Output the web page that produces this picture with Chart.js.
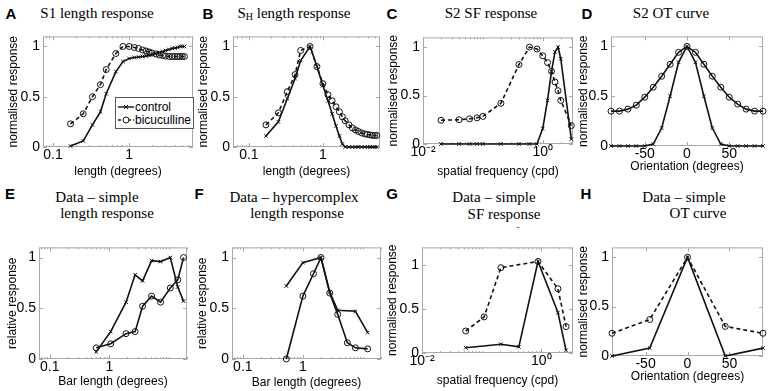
<!DOCTYPE html>
<html>
<head>
<meta charset="utf-8">
<script src="https://cdn.jsdelivr.net/npm/chart.js@4.4.1/dist/chart.umd.min.js"></script>
<style>
  html, body { margin: 0; padding: 0; background: #fff; }
  #fig { position: relative; width: 768px; height: 391px; overflow: hidden; }
  .panel { position: absolute; }
  .lbl { position: absolute; transform: translate(-50%, -50%); white-space: nowrap; color: #000; }
  .letter { font: bold 15px 'Liberation Sans', Arial, sans-serif; }
  .ttl { font: 15px 'Liberation Serif', 'Times New Roman', serif; }
  .ttl sub { font-size: 10px; vertical-align: -2px; }
  #legA { position: absolute; left: 115px; top: 97px; width: 77px; height: 30px;
          border: 1px solid #555; background: #fff; font: 12px 'Liberation Sans', Arial, sans-serif; }
  #legA .row { position: absolute; left: 2px; height: 14px; display: flex; align-items: center; }
  #legA svg { margin-right: 1px; }
</style>
</head>
<body>
<div id="fig">
  <div class="lbl letter" style="left:11px;top:13px">A</div>
  <div class="lbl letter" style="left:208px;top:13px">B</div>
  <div class="lbl letter" style="left:392px;top:13px">C</div>
  <div class="lbl letter" style="left:587px;top:13px">D</div>
  <div class="lbl letter" style="left:10px;top:193px">E</div>
  <div class="lbl letter" style="left:199px;top:193px">F</div>
  <div class="lbl letter" style="left:392px;top:193px">G</div>
  <div class="lbl letter" style="left:586px;top:193px">H</div>

  <div class="lbl ttl" style="left:97px;top:13px">S1 length response</div>
  <div class="lbl ttl" style="left:294px;top:13px">S<sub>H</sub> length response</div>
  <div class="lbl ttl" style="left:491px;top:13px">S2 SF response</div>
  <div class="lbl ttl" style="left:671px;top:13px">S2 OT curve</div>
  <div class="lbl ttl" style="left:97px;top:197px">Data – simple</div>
  <div class="lbl ttl" style="left:107px;top:213px">length response</div>
  <div class="lbl ttl" style="left:294px;top:197px">Data – hypercomplex</div>
  <div class="lbl ttl" style="left:297px;top:213px">length response</div>
  <div class="lbl ttl" style="left:494px;top:197px">Data – simple</div>
  <div class="lbl ttl" style="left:504px;top:214px">SF response</div>
  <div class="lbl ttl" style="left:518px;top:227px;font-size:9px">-</div>
  <div class="lbl ttl" style="left:684px;top:197px">Data – simple</div>
  <div class="lbl ttl" style="left:698px;top:213px">OT curve</div>
</div>
<script>
// model: S1 / SH length tuning (control vs bicuculline)
const lenModel = [0.17, 0.25, 0.33, 0.42, 0.5, 0.67, 0.83, 1.0, 1.17, 1.33, 1.5, 1.67, 1.83,
  2.0, 2.25, 2.5, 2.75, 3.0, 3.33, 3.67, 4.0, 4.33, 4.67, 5.0, 5.33]
const s1Control = [0.01, 0.06, 0.22, 0.35, 0.53, 0.75, 0.85, 0.88, 0.89, 0.895, 0.9, 0.905, 0.91,
  0.92, 0.93, 0.94, 0.95, 0.96, 0.97, 0.98, 0.985, 0.99, 1.0, 1.0, 1.0]
const s1Bicuc = [0.23, 0.33, 0.5, 0.62, 0.77, 0.93, 1.0, 1.0, 0.99, 0.98, 0.965, 0.955, 0.945,
  0.935, 0.925, 0.915, 0.91, 0.905, 0.9, 0.9, 0.9, 0.9, 0.9, 0.9, 0.9]
const shControl = [0.11, 0.25, 0.48, 0.68, 0.86, 1.0, 0.8, 0.61, 0.46, 0.33, 0.21, 0.11, 0.03,
  0, 0, 0, 0, 0, 0, 0, 0, 0, 0, 0, 0]
const shBicuc = [0.22, 0.34, 0.55, 0.72, 0.96, 1.0, 0.8, 0.63, 0.52, 0.46, 0.4, 0.35, 0.3,
  0.26, 0.22, 0.19, 0.17, 0.155, 0.14, 0.13, 0.125, 0.12, 0.115, 0.115, 0.115]

// model: S2 spatial frequency and orientation
const sfModel = [0.02, 0.04, 0.06, 0.08, 0.1, 0.2, 0.4, 0.6, 0.8, 1.0, 1.2, 1.4, 1.6, 1.8, 2.0, 3.0]
const s2SfBroad = [0.245, 0.25, 0.26, 0.27, 0.285, 0.42, 0.82, 1.0, 0.98, 0.91, 0.84, 0.75, 0.64, 0.55, 0.45, 0.19]
const s2SfNarrow = [0, 0, 0, 0, 0, 0, 0, 0, 0, 0.16, 0.45, 0.75, 0.95, 1.0, 0.88, 0.05]
const oriModel = [-90, -80, -70, -60, -50, -40, -30, -20, -10, 0, 10, 20, 30, 40, 50, 60, 70, 80, 90]
const s2OtBroad = [0.35, 0.35, 0.37, 0.41, 0.49, 0.59, 0.7, 0.82, 0.94, 1.0, 0.94, 0.82, 0.7, 0.59, 0.49, 0.42, 0.37, 0.35, 0.35]
const s2OtNarrow = [0, 0, 0, 0, 0, 0.02, 0.18, 0.5, 0.84, 1.0, 0.84, 0.5, 0.18, 0.02, 0, 0, 0, 0, 0]

// physiology data
const lenSimple = [0.6, 1.05, 1.9, 2.7, 3.6, 5.1, 7.2, 10.5, 14, 17.5]
const simpleLenCross = [0.07, 0.27, 0.56, 0.83, 0.77, 0.97, 0.96, 1.0, 0.71, 0.57]
const simpleLenCircle = [0.11, 0.15, 0.25, 0.27, 0.52, 0.62, 0.56, 0.7, 0.78, 1.0]
const lenHyperCrossX = [0.53, 1.0, 2.0, 2.8, 3.8, 7.5, 12]
const hyperLenCross = [0.72, 0.95, 1.0, 0.66, 0.48, 0.47, 0.26]
const lenHyperCircleX = [0.53, 1.0, 1.5, 2.0, 2.8, 3.8, 5.5, 7.5, 12]
const hyperLenCircle = [0, 0.62, 0.84, 1.0, 0.65, 0.44, 0.16, 0.11, 0.1]
const sfSimpleCircleX = [0.054, 0.11, 0.21, 0.88, 1.9, 2.6]
const simpleSfCircle = [0.25, 0.41, 0.97, 1.04, 0.73, 0.3]
const sfSimpleCrossX = [0.054, 0.21, 0.42, 0.88, 1.9, 2.6]
const simpleSfCross = [0.06, 0.1, 0.07, 1.04, 0.46, 0.03]
const oriData = [-90, -45, 0, 45, 90]
const simpleOtCircle = [0.23, 0.37, 1.0, 0.3, 0.23]
const simpleOtCross = [0, 0.08, 1.0, 0, 0.08]

// tick labels
const lenTicks = [0.1, 1]
const lenTickLabels = ['0.1', '1']
const sfTicks = [0.01, 1]
const sfTickLabels = ['10⁻²', '10⁰']
const oriTicks = [-50, 0, 50]
const oriTickLabels = ['-50', '0', '50']
const respTicks = [0, 0.5, 1]
const respTickLabels = ['0', '0.5', '1']

Chart.defaults.font.family = "'Liberation Sans', Arial, sans-serif"
Chart.defaults.color = '#000'

const charts = {}
const INK = '#111'
const solidCross = { dash: false, marker: 'crossRot' }
const solidCircle = { dash: false, marker: 'circle' }
const dashCircle = { dash: true, marker: 'circle' }

function line (xs, ys, st) {
  return {
    data: xs.map((x, i) => ({ x, y: ys[i] })),
    borderColor: INK,
    borderWidth: 1.6,
    borderDash: st.dash ? [4, 3] : [],
    pointStyle: st.marker,
    pointRadius: st.marker === 'circle' ? 3 : 2.5,
    pointBorderColor: INK,
    pointBackgroundColor: 'rgba(0,0,0,0)',
    pointBorderWidth: 1,
    tension: 0,
    fill: false,
    clip: false
  }
}

function logTicks (min, max) {
  const out = []
  for (let e = Math.floor(Math.log10(min)); e <= Math.ceil(Math.log10(max)); e++) {
    for (let k = 1; k < 10; k++) {
      const v = k * Math.pow(10, e)
      if (v >= min && v <= max) out.push(v)
    }
  }
  return out
}

function labelFor (v, vals, labels) {
  const i = vals.findIndex(m => Math.abs(m - v) < 1e-9 * Math.max(1, Math.abs(m)))
  return i < 0 ? '' : labels[i]
}

// grey box with small inward ticks, as matlab draws it
const frame = {
  id: 'frame',
  beforeDatasetsDraw (chart) {
    const { ctx, chartArea: a, scales: { x, y } } = chart
    ctx.save()
    ctx.strokeStyle = '#a8a8a8'
    ctx.lineWidth = 1
    ctx.strokeRect(a.left + 0.5, a.top + 0.5, a.width - 1, a.height - 1)
    ctx.beginPath()
    x.ticks.forEach(t => {
      const px = Math.round(x.getPixelForValue(t.value)) + 0.5
      const n = t.big ? 4 : 2
      ctx.moveTo(px, a.bottom); ctx.lineTo(px, a.bottom - n)
      ctx.moveTo(px, a.top); ctx.lineTo(px, a.top + n)
    })
    y.ticks.forEach(t => {
      const py = Math.round(y.getPixelForValue(t.value)) + 0.5
      ctx.moveTo(a.left, py); ctx.lineTo(a.left + 4, py)
      ctx.moveTo(a.right, py); ctx.lineTo(a.right - 4, py)
    })
    ctx.stroke()
    ctx.restore()
  }
}

function build (id, spec) {
  const [l, t, r, b, yTitleX, xTitleY] = spec.box
  const left = yTitleX - 10
  const top = t - 6
  const width = r + 5 - left
  const height = xTitleY + 9 - top
  const div = document.createElement('div')
  div.className = 'panel'
  div.style.cssText = `left:${left}px;top:${top}px;width:${width}px;height:${height}px`
  const canvas = document.createElement('canvas')
  div.appendChild(canvas)
  document.getElementById('fig').appendChild(div)

  const xVals = spec.xType === 'logarithmic' ? logTicks(spec.xMin, spec.xMax) : spec.xMajor
  const titleFont = { size: 12 }

  charts[id] = new Chart(canvas.getContext('2d'), {
    type: 'line',
    data: { datasets: spec.series },
    plugins: [frame],
    options: {
      responsive: true,
      maintainAspectRatio: false,
      animation: false,
      events: [],
      layout: { padding: { top: 6, right: 5, left: 0, bottom: 0 } },
      plugins: { legend: { display: false }, tooltip: { enabled: false } },
      scales: {
        x: {
          type: spec.xType,
          min: spec.xMin,
          max: spec.xMax,
          grid: { display: false, drawTicks: false },
          border: { display: false },
          afterBuildTicks: s => {
            s.ticks = xVals.map(v => ({ value: v, big: labelFor(v, spec.xMajor, spec.xLabels) !== '' }))
          },
          afterFit: s => { s.height = xTitleY + 9 - b },
          ticks: {
            autoSkip: false,
            maxRotation: 0,
            padding: 0,
            font: { size: 14 },
            callback: v => labelFor(v, spec.xMajor, spec.xLabels)
          },
          title: { display: true, text: spec.xTitle, font: titleFont, padding: { top: 0, bottom: 2 } }
        },
        y: {
          type: 'linear',
          min: 0,
          max: spec.yMax,
          grid: { display: false, drawTicks: false },
          border: { display: false },
          afterBuildTicks: s => { s.ticks = respTicks.map(v => ({ value: v, big: true })) },
          afterFit: s => { s.width = l - left },
          ticks: {
            padding: 3,
            font: { size: 14 },
            callback: v => labelFor(v, respTicks, respTickLabels)
          },
          title: { display: true, text: spec.yTitle, font: titleFont, padding: { top: 3, bottom: 0 } }
        }
      }
    }
  })
  return charts[id]
}

build('A', {
  box: [43, 31, 193, 147, 13, 172],
  xType: 'logarithmic', xMin: 0.074, xMax: 6.9, xMajor: lenTicks, xLabels: lenTickLabels,
  yMax: 1.1, xTitle: 'length (degrees)', yTitle: 'normalised response',
  series: [line(lenModel, s1Control, solidCross), line(lenModel, s1Bicuc, dashCircle)]
})
build('B', {
  box: [233, 31, 380, 147, 203, 172],
  xType: 'logarithmic', xMin: 0.061, xMax: 5.9, xMajor: lenTicks, xLabels: lenTickLabels,
  yMax: 1.1, xTitle: 'length (degrees)', yTitle: 'normalised response',
  series: [line(lenModel, shControl, solidCross), line(lenModel, shBicuc, dashCircle)]
})
build('C', {
  box: [423, 32, 573, 144, 393, 172],
  xType: 'logarithmic', xMin: 0.01, xMax: 3.2, xMajor: sfTicks, xLabels: sfTickLabels,
  yMax: 1.1, xTitle: 'spatial frequency (cpd)', yTitle: 'normalised response',
  series: [line(sfModel, s2SfNarrow, solidCross), line(sfModel, s2SfBroad, dashCircle)]
})
build('D', {
  box: [611, 31, 763, 146, 583, 167],
  xType: 'linear', xMin: -90, xMax: 90, xMajor: oriTicks, xLabels: oriTickLabels,
  yMax: 1.1, xTitle: 'Orientation (degrees)', yTitle: 'normalised response',
  series: [line(oriModel, s2OtNarrow, solidCross), line(oriModel, s2OtBroad, solidCircle)]
})
build('E', {
  box: [39, 242, 187, 359, 12, 382],
  xType: 'logarithmic', xMin: 0.066, xMax: 20, xMajor: lenTicks, xLabels: lenTickLabels,
  yMax: 1.1, xTitle: 'Bar length (degrees)', yTitle: 'relative response',
  series: [line(lenSimple, simpleLenCross, solidCross), line(lenSimple, simpleLenCircle, solidCircle)]
})
build('F', {
  box: [232, 242, 381, 359, 202, 383],
  xType: 'logarithmic', xMin: 0.066, xMax: 20, xMajor: lenTicks, xLabels: lenTickLabels,
  yMax: 1.1, xTitle: 'Bar length (degrees)', yTitle: 'relative response',
  series: [line(lenHyperCrossX, hyperLenCross, solidCross), line(lenHyperCircleX, hyperLenCircle, solidCircle)]
})
build('G', {
  box: [422, 242, 573, 353, 392, 381],
  xType: 'logarithmic', xMin: 0.01, xMax: 3.4, xMajor: sfTicks, xLabels: sfTickLabels,
  yMax: 1.2, xTitle: 'spatial frequency (cpd)', yTitle: 'normalised response',
  series: [line(sfSimpleCrossX, simpleSfCross, solidCross), line(sfSimpleCircleX, simpleSfCircle, dashCircle)]
})
build('H', {
  box: [612, 242, 763, 356, 583, 377],
  xType: 'linear', xMin: -90, xMax: 90, xMajor: oriTicks, xLabels: oriTickLabels,
  yMax: 1.1, xTitle: 'Orientation (degrees)', yTitle: 'normalised response',
  series: [line(oriData, simpleOtCross, solidCross), line(oriData, simpleOtCircle, dashCircle)]
})
</script>
<div id="legA" style="position:absolute">
  <div class="row" style="top:2px">
    <svg width="16" height="10"><line x1="0" y1="5" x2="16" y2="5" stroke="#111" stroke-width="1.4"/><path d="M6 3 L10 7 M10 3 L6 7" stroke="#111" fill="none"/></svg><span>control</span>
  </div>
  <div class="row" style="top:15px">
    <svg width="16" height="10"><line x1="0" y1="5" x2="16" y2="5" stroke="#111" stroke-width="1.4" stroke-dasharray="3 2"/><circle cx="8" cy="5" r="3" stroke="#111" fill="#fff"/></svg><span>bicuculline</span>
  </div>
</div>
<script>
  document.getElementById('fig').appendChild(document.getElementById('legA'))
</script>
</body>
</html>
